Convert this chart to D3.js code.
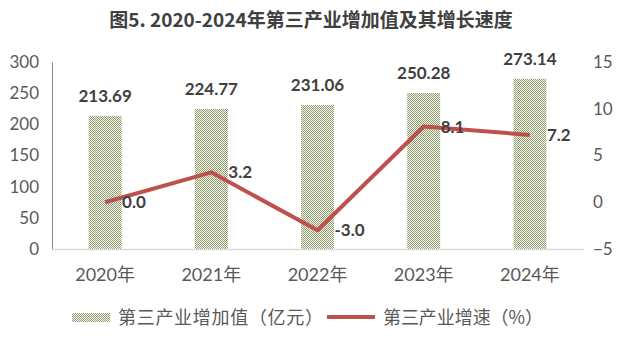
<!DOCTYPE html>
<html><head><meta charset="utf-8">
<script src="https://cdn.jsdelivr.net/npm/d3@7/dist/d3.min.js"></script>
<style>body{margin:0;background:#fff}svg{display:block}</style>
</head><body>
<script>
const categories = ["2020年","2021年","2022年","2023年","2024年"];
const valueAdded = [213.69,224.77,231.06,250.28,273.14];
const growth = [0.0,3.2,-3.0,8.1,7.2];
const leftTicks = [0,50,100,150,200,250,300];
const rightTicks = [-5,0,5,10,15];
const title = "图5. 2020-2024年第三产业增加值及其增长速度";
const legendLabels = ["第三产业增加值（亿元）","第三产业增速（%）"];

const W=624,H=346;
const m={l:52,r:41,t:62,b:97};
const svg=d3.select("body").append("svg").attr("width",W).attr("height",H);
const font="Lato, 'Noto Sans CJK SC', sans-serif";
const cjk="'Noto Sans CJK SC', sans-serif";
const defs=svg.append("defs");
const pat=defs.append("pattern").attr("id","chk").attr("patternUnits","userSpaceOnUse").attr("width",2).attr("height",2);
pat.append("rect").attr("width",2).attr("height",2).attr("fill","#f8f9f2");
pat.append("rect").attr("x",0).attr("y",0).attr("width",1).attr("height",1).attr("fill","#8c9c6c");
pat.append("rect").attr("x",1).attr("y",1).attr("width",1).attr("height",1).attr("fill","#8c9c6c");

const x=d3.scaleBand().domain(categories).range([m.l,W-m.r]).paddingInner(0.69).paddingOuter(0.345);
const yL=d3.scaleLinear().domain([0,300]).range([H-m.b,m.t]);
const yR=d3.scaleLinear().domain([-5,15]).range([H-m.b,m.t]);

svg.append("text").attr("x",311).attr("y",27).attr("text-anchor","middle")
 .attr("font-family",cjk).attr("font-weight","bold").attr("font-size",19).attr("fill","#404040").text(title);

// axes
const gl=svg.append("g").attr("transform",`translate(${m.l},0)`).call(d3.axisLeft(yL).tickValues(leftTicks).tickSize(0).tickPadding(13));
gl.select(".domain").attr("stroke","#7f8c99");
gl.selectAll("text").attr("font-family",font).attr("font-size",17).attr("fill","#595959");
const gr=svg.append("g").attr("transform",`translate(${W-m.r},0)`).call(d3.axisRight(yR).tickValues(rightTicks).tickSize(0).tickPadding(10));
gr.select(".domain").remove();
gr.selectAll("text").attr("font-family",font).attr("font-size",17).attr("fill","#595959");

// bars
svg.append("g").selectAll("rect").data(valueAdded).join("rect")
 .attr("x",(d,i)=>x(categories[i])).attr("width",x.bandwidth())
 .attr("y",d=>yL(d)).attr("height",d=>yL(0)-yL(d)).attr("fill","url(#chk)");
svg.append("g").selectAll("text").data(valueAdded).join("text")
 .attr("x",(d,i)=>x(categories[i])+x.bandwidth()/2).attr("y",d=>yL(d)-14)
 .attr("text-anchor","middle").attr("font-family",font).attr("font-weight","bold").attr("font-size",17).attr("fill","#404040")
 .text(d=>d.toFixed(2));

const gb=svg.append("g").attr("transform",`translate(0,${H-m.b})`).call(d3.axisBottom(x).tickSize(0).tickPadding(19));
gb.select(".domain").attr("stroke","#d9d9d9").attr("stroke-width",1.3);
gb.selectAll("text").attr("font-family",font).attr("font-size",18).attr("fill","#595959");

// line
const cx=i=>x(categories[i])+x.bandwidth()/2;
svg.append("path").datum(growth).attr("fill","none").attr("stroke","#c0504d").attr("stroke-width",4).attr("stroke-linejoin","round")
 .attr("d",d3.line().x((d,i)=>cx(i)).y(d=>yR(d)));
svg.append("g").selectAll("text").data(growth).join("text")
 .attr("x",(d,i)=>cx(i)+17).attr("y",d=>yR(d)+6)
 .attr("font-family",font).attr("font-weight","bold").attr("font-size",17).attr("fill","#404040")
 .text(d=>d.toFixed(1));

// legend
const lg=svg.append("g");
lg.append("rect").attr("x",72).attr("y",313).attr("width",38).attr("height",9).attr("fill","url(#chk)");
lg.append("text").attr("x",118).attr("y",324).attr("font-family",cjk).attr("font-size",18).attr("fill","#595959")
 .attr("textLength",205).attr("lengthAdjust","spacing").text(legendLabels[0]);
lg.append("line").attr("x1",327).attr("x2",375).attr("y1",317).attr("y2",317).attr("stroke","#c0504d").attr("stroke-width",4);
lg.append("text").attr("x",383).attr("y",324).attr("font-family",cjk).attr("font-size",18).attr("fill","#595959")
 .attr("textLength",160).attr("lengthAdjust","spacing").text(legendLabels[1]);
</script>
</body></html>
